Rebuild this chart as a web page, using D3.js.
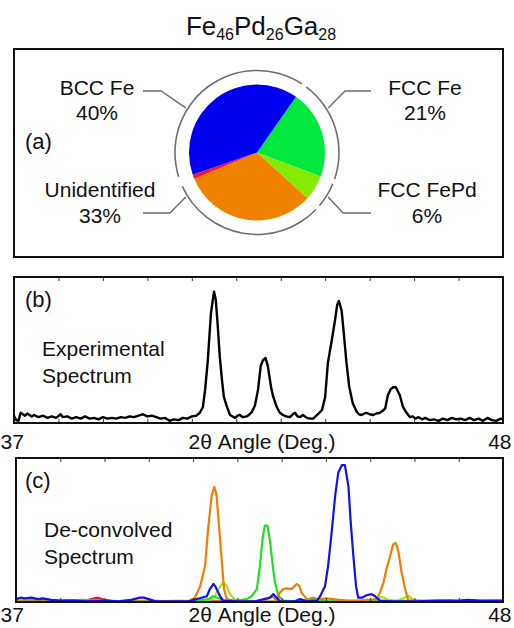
<!DOCTYPE html>
<html>
<head>
<meta charset="utf-8">
<script src="https://cdn.jsdelivr.net/npm/d3@7"></script>
<style>
  body { margin: 0; background: #fff; }
  svg text { font-family: "Liberation Sans", Arial, sans-serif; fill: #111; }
</style>
</head>
<body>
<div id="chart"></div>
<script>
// ---- pie data (phase fractions, %) ----
const phases = ['FCC Fe', 'FCC FePd', 'Unidentified', 'Other', 'BCC Fe'];
const phaseShare = [21, 6, 32, 1, 40];
const phaseColors = ['#00e840', '#84ea00', '#f08200', '#f0143c', '#0000f0'];
const labelNames = ['BCC Fe', 'FCC Fe', 'Unidentified', 'FCC FePd'];
const labelPct = ['40%', '21%', '33%', '6%'];

// ---- axis ticks ----
const xEnds = [37, 48];
const xMinor = [38, 39, 40, 41, 42, 43, 44, 45, 46, 47];

// ---- (b) experimental spectrum [2theta, intensity] ----
const expData = [
  [37.00,0.05],[37.05,0.02],[37.10,0.015],[37.15,0.07],[37.20,0.06],[37.25,0.05],[37.30,0.065],
  [37.40,0.045],[37.45,0.055],[37.55,0.04],[37.65,0.05],[37.75,0.035],[37.85,0.045],[37.95,0.035],
  [38.05,0.06],[38.10,0.04],[38.20,0.045],[38.30,0.03],[38.40,0.04],[38.50,0.03],[38.60,0.045],
  [38.70,0.03],[38.80,0.035],[38.90,0.025],[39.00,0.04],[39.10,0.03],[39.20,0.035],[39.30,0.03],
  [39.40,0.04],[39.50,0.035],[39.60,0.045],[39.70,0.04],[39.80,0.05],[39.90,0.06],[40.00,0.045],
  [40.10,0.05],[40.20,0.04],[40.30,0.03],[40.40,0.035],[40.50,0.015],[40.60,0.025],[40.70,0.02],
  [40.80,0.035],[40.90,0.03],[41.00,0.045],[41.10,0.05],[41.18,0.07],[41.25,0.11],[41.30,0.23],
  [41.36,0.43],[41.43,0.75],[41.48,0.86],[41.50,0.90],[41.54,0.84],[41.58,0.68],[41.63,0.45],
  [41.68,0.29],[41.72,0.18],[41.79,0.11],[41.86,0.055],[41.92,0.045],[41.97,0.035],[42.03,0.05],
  [42.08,0.055],[42.15,0.04],[42.24,0.045],[42.30,0.06],[42.35,0.075],[42.42,0.12],[42.49,0.23],
  [42.55,0.39],[42.60,0.43],[42.66,0.445],[42.71,0.39],[42.78,0.25],[42.83,0.18],[42.91,0.11],
  [42.98,0.07],[43.05,0.055],[43.12,0.045],[43.21,0.04],[43.27,0.06],[43.32,0.07],[43.38,0.045],
  [43.43,0.04],[43.50,0.055],[43.59,0.035],[43.66,0.03],[43.73,0.03],[43.82,0.055],[43.93,0.09],
  [44.00,0.18],[44.06,0.41],[44.15,0.57],[44.22,0.70],[44.27,0.81],[44.31,0.835],[44.37,0.77],
  [44.42,0.61],[44.48,0.41],[44.54,0.25],[44.62,0.135],[44.71,0.077],[44.76,0.06],[44.82,0.055],
  [44.88,0.065],[44.93,0.07],[45.00,0.06],[45.08,0.055],[45.15,0.065],[45.23,0.07],[45.30,0.085],
  [45.35,0.10],[45.41,0.19],[45.47,0.23],[45.53,0.245],[45.59,0.245],[45.68,0.19],[45.75,0.11],
  [45.83,0.07],[45.91,0.04],[45.97,0.045],[46.03,0.03],[46.10,0.04],[46.18,0.025],[46.25,0.035],
  [46.35,0.02],[46.45,0.025],[46.55,0.015],[46.65,0.03],[46.75,0.02],[46.85,0.035],[46.95,0.025],
  [47.05,0.03],[47.15,0.02],[47.25,0.035],[47.35,0.02],[47.45,0.03],[47.55,0.015],[47.65,0.035],
  [47.75,0.02],[47.85,0.015],[47.95,0.03],[48.00,0.025]
];

// ---- (c) de-convolved components [2theta, intensity] ----
const redData = [
  [37.0,0.005],[37.5,0.01],[37.9,0.005],[38.2,0.01],[38.5,0.005],[38.7,0.02],[38.85,0.03],
  [39.0,0.015],[39.2,0.005],[40.0,0.005],[41.0,0.005],[42.0,0.005],[43.0,0.005],[44.0,0.005],
  [45.0,0.005],[46.0,0.005],[46.8,0.01],[47.0,0.005],[48.0,0.005]
];
const limeData = [
  [37.0,0.005],[38.0,0.01],[39.0,0.005],[40.0,0.005],[41.0,0.005],[41.46,0.02],[41.57,0.09],
  [41.68,0.135],[41.76,0.11],[41.83,0.055],[41.95,0.015],[42.2,0.005],[43.0,0.005],[44.0,0.005],
  [45.0,0.01],[45.18,0.025],[45.27,0.037],[45.4,0.015],[45.6,0.01],[45.75,0.025],[45.86,0.045],
  [45.97,0.015],[46.1,0.005],[47.0,0.005],[48.0,0.005]
];
const greenData = [
  [37.0,0.01],[37.5,0.015],[38.0,0.01],[38.5,0.015],[39.0,0.01],[39.5,0.005],[40.0,0.01],
  [40.5,0.005],[41.0,0.005],[41.35,0.02],[41.45,0.04],[41.55,0.03],[41.7,0.01],[42.0,0.01],
  [42.21,0.02],[42.32,0.04],[42.44,0.09],[42.51,0.25],[42.57,0.44],[42.62,0.53],[42.68,0.53],
  [42.74,0.415],[42.80,0.25],[42.85,0.135],[42.93,0.04],[43.04,0.01],[43.3,0.005],[43.55,0.015],
  [43.72,0.03],[43.85,0.015],[44.0,0.005],[44.5,0.005],[45.0,0.01],[45.5,0.005],[46.0,0.01],
  [47.0,0.005],[48.0,0.01]
];
const orangeData = [
  [37.0,0.005],[38.0,0.005],[39.0,0.005],[40.0,0.005],[40.93,0.01],[41.04,0.03],[41.16,0.11],
  [41.27,0.25],[41.34,0.51],[41.42,0.74],[41.48,0.80],[41.53,0.74],[41.59,0.51],[41.65,0.275],
  [41.70,0.09],[41.76,0.02],[42.0,0.005],[42.56,0.005],[42.67,0.02],[42.78,0.04],[42.90,0.01],
  [42.96,0.065],[43.04,0.09],[43.11,0.095],[43.23,0.09],[43.34,0.125],[43.40,0.11],[43.45,0.065],
  [43.57,0.02],[43.8,0.015],[44.0,0.025],[44.15,0.02],[44.3,0.015],[44.5,0.01],[44.8,0.01],
  [45.15,0.02],[45.22,0.065],[45.30,0.135],[45.37,0.23],[45.45,0.32],[45.52,0.40],[45.58,0.41],
  [45.64,0.345],[45.71,0.205],[45.79,0.09],[45.86,0.01],[46.5,0.005],[48.0,0.005]
];
const blueData = [
  [37.0,0.02],[37.1,0.03],[37.2,0.025],[37.35,0.03],[37.5,0.02],[37.6,0.025],[37.8,0.015],
  [38.0,0.01],[38.3,0.01],[38.6,0.005],[39.0,0.01],[39.3,0.005],[39.6,0.015],[39.8,0.03],
  [39.9,0.03],[40.0,0.02],[40.15,0.005],[40.5,0.005],[40.9,0.005],[41.31,0.04],[41.38,0.09],
  [41.46,0.125],[41.50,0.11],[41.57,0.065],[41.61,0.04],[41.68,0.01],[42.0,0.005],[42.4,0.005],
  [42.74,0.03],[42.81,0.055],[42.89,0.03],[42.96,0.005],[43.3,0.005],[43.42,0.02],[43.55,0.005],
  [43.80,0.01],[43.87,0.04],[43.98,0.11],[44.05,0.25],[44.13,0.485],[44.21,0.74],[44.28,0.90],
  [44.36,0.95],[44.43,0.95],[44.51,0.80],[44.56,0.555],[44.62,0.32],[44.68,0.11],[44.73,0.03],
  [44.81,0.03],[44.92,0.047],[45.03,0.055],[45.11,0.04],[45.22,0.01],[45.5,0.005],[46.0,0.005],
  [46.5,0.01],[47.0,0.01],[47.2,0.015],[47.5,0.01],[48.0,0.01]
];
const components = [
  { name: 'red', data: redData, color: '#e8143c' },
  { name: 'lime', data: limeData, color: '#9ae61e' },
  { name: 'green', data: greenData, color: '#22dd22' },
  { name: 'orange', data: orangeData, color: '#f07c00' },
  { name: 'blue', data: blueData, color: '#1212e6' }
];

const width = 514, height = 628;
const svg = d3.select('#chart').append('svg')
  .attr('width', width).attr('height', height);

// ---- title ----
const title = svg.append('text')
  .attr('x', 261).attr('y', 35)
  .attr('text-anchor', 'middle')
  .attr('font-size', 26);
[['Fe', false], ['46', true], ['Pd', false], ['26', true], ['Ga', false], ['28', true]]
  .forEach(([t, sub], i) => {
    title.append('tspan')
      .attr('font-size', sub ? 16 : 26)
      .attr('dy', i === 0 ? 0 : (sub ? 5 : -5))
      .text(t);
  });

// ---- panel (a): pie ----
svg.append('rect')
  .attr('x', 14).attr('y', 49).attr('width', 489).attr('height', 208)
  .attr('fill', 'none').attr('stroke', '#111').attr('stroke-width', 2);

const cx = 257, cy = 152.5, rPie = 68, rRing = 82;
const deg = Math.PI / 180;
const pie = d3.pie().sort(null).value(d => d)
  .startAngle(35 * deg).endAngle(35 * deg + 2 * Math.PI);
const slices = pie(phaseShare);
const gPie = svg.append('g').attr('transform', `translate(${cx},${cy})`);

gPie.selectAll('path.slice')
  .data(slices)
  .join('path')
  .attr('class', 'slice')
  .attr('d', d3.arc().innerRadius(0).outerRadius(rPie))
  .attr('fill', (d, i) => phaseColors[i]);

// outer ring, one arc per named phase with small gaps
const gap = 1.8 * deg;
gPie.selectAll('path.ring')
  .data(slices.filter((d, i) => phases[i] !== 'Other'))
  .join('path')
  .attr('class', 'ring')
  .attr('d', d => d3.arc().innerRadius(rRing - 0.8).outerRadius(rRing + 0.8)
    .startAngle(d.startAngle + gap).endAngle(d.endAngle - gap)())
  .attr('fill', '#6e6e6e');

// labels with connectors
const labelSpots = [
  { ang: 302, elbowX: 161, endX: 143, lineY: 91, tx: 97, ty: 94.5 },
  { ang: 58, elbowX: 345, endX: 371, lineY: 91, tx: 425, ty: 94.5 },
  { ang: 238, elbowX: 170, endX: 143, lineY: 213, tx: 100, ty: 197 },
  { ang: 122, elbowX: 343, endX: 371, lineY: 213, tx: 427, ty: 197 }
];
labelSpots.forEach((s, i) => {
  const a = s.ang * deg;
  const px = cx + (rRing + 2) * Math.sin(a), py = cy - (rRing + 2) * Math.cos(a);
  svg.append('polyline')
    .attr('points', `${px},${py} ${s.elbowX},${s.lineY} ${s.endX},${s.lineY}`)
    .attr('fill', 'none').attr('stroke', '#6e6e6e').attr('stroke-width', 1.5);
  const t = svg.append('text').attr('text-anchor', 'middle').attr('font-size', 21);
  t.append('tspan').attr('x', s.tx).attr('y', s.ty).text(labelNames[i]);
  t.append('tspan').attr('x', s.tx).attr('y', s.ty + 25.5).text(labelPct[i]);
});
svg.append('text').attr('x', 25).attr('y', 149).attr('font-size', 22).text('(a)');

// ---- spectrum panels ----
function spectrumPanel(box, labelLines, letter, series, axisPad, lineW) {
  const x = d3.scaleLinear().domain([37, 48]).range([box.x0, box.x1]);
  const y = d3.scaleLinear().domain([0, 1]).range([box.y1, box.y0]);
  const clipId = 'clip' + letter.replace(/\W/g, '');
  svg.append('clipPath').attr('id', clipId)
    .append('rect').attr('x', box.x0).attr('y', box.y0)
    .attr('width', box.x1 - box.x0).attr('height', box.y1 - box.y0);

  const line = d3.line().x(d => x(d[0])).y(d => y(d[1]));
  svg.append('g').attr('clip-path', `url(#${clipId})`)
    .selectAll('path')
    .data(series)
    .join('path')
    .attr('d', d => line(d.data))
    .attr('fill', 'none')
    .attr('stroke', d => d.color)
    .attr('stroke-width', lineW)
    .attr('stroke-linejoin', 'round');

  // inward ticks top and bottom
  svg.append('g').attr('transform', `translate(0,${box.y0})`)
    .call(d3.axisTop(x).tickValues(xMinor).tickSize(-4).tickFormat(''))
    .call(g => g.select('.domain').remove())
    .selectAll('line').attr('stroke', '#333');
  svg.append('g').attr('transform', `translate(0,${box.y1})`)
    .call(d3.axisBottom(x).tickValues(xMinor).tickSize(-4).tickFormat(''))
    .call(g => g.select('.domain').remove())
    .selectAll('line').attr('stroke', '#333');

  svg.append('rect')
    .attr('x', box.x0).attr('y', box.y0)
    .attr('width', box.x1 - box.x0).attr('height', box.y1 - box.y0)
    .attr('fill', 'none').attr('stroke', '#111').attr('stroke-width', 2);

  // end labels 37 / 48
  const ax = svg.append('g').attr('transform', `translate(0,${box.y1})`)
    .call(d3.axisBottom(x).tickValues(xEnds).tickSize(0).tickPadding(axisPad).tickFormat(d3.format('d')));
  ax.select('.domain').remove();
  ax.selectAll('text')
    .attr('font-size', 21)
    .attr('font-family', '"Liberation Sans", Arial, sans-serif')
    .attr('fill', '#111')
    .attr('text-anchor', (d, i) => i === 0 ? 'start' : 'end')
    .attr('dx', (d, i) => i === 0 ? -box.x0 : 8);

  svg.append('text')
    .attr('x', 262).attr('y', box.y1 + axisPad + 15)
    .attr('text-anchor', 'middle').attr('font-size', 21)
    .text('2\u03b8 Angle (Deg.)');

  svg.append('text').attr('x', 25).attr('y', box.y0 + 30).attr('font-size', 22).text(letter);
  const t = svg.append('text').attr('font-size', 21);
  labelLines.forEach((s, i) => {
    t.append('tspan').attr('x', box.x0 + 28).attr('y', box.y0 + 79 + i * 27).text(s);
  });
}

spectrumPanel({ x0: 14, x1: 503, y0: 277, y1: 423 }, ['Experimental', 'Spectrum'], '(b)',
  [{ name: 'exp', data: expData, color: '#000' }], 11, 2.4);
spectrumPanel({ x0: 16, x1: 503, y0: 458, y1: 602 }, ['De-convolved', 'Spectrum'], '(c)',
  components, 5, 2.2);
</script>
</body>
</html>
